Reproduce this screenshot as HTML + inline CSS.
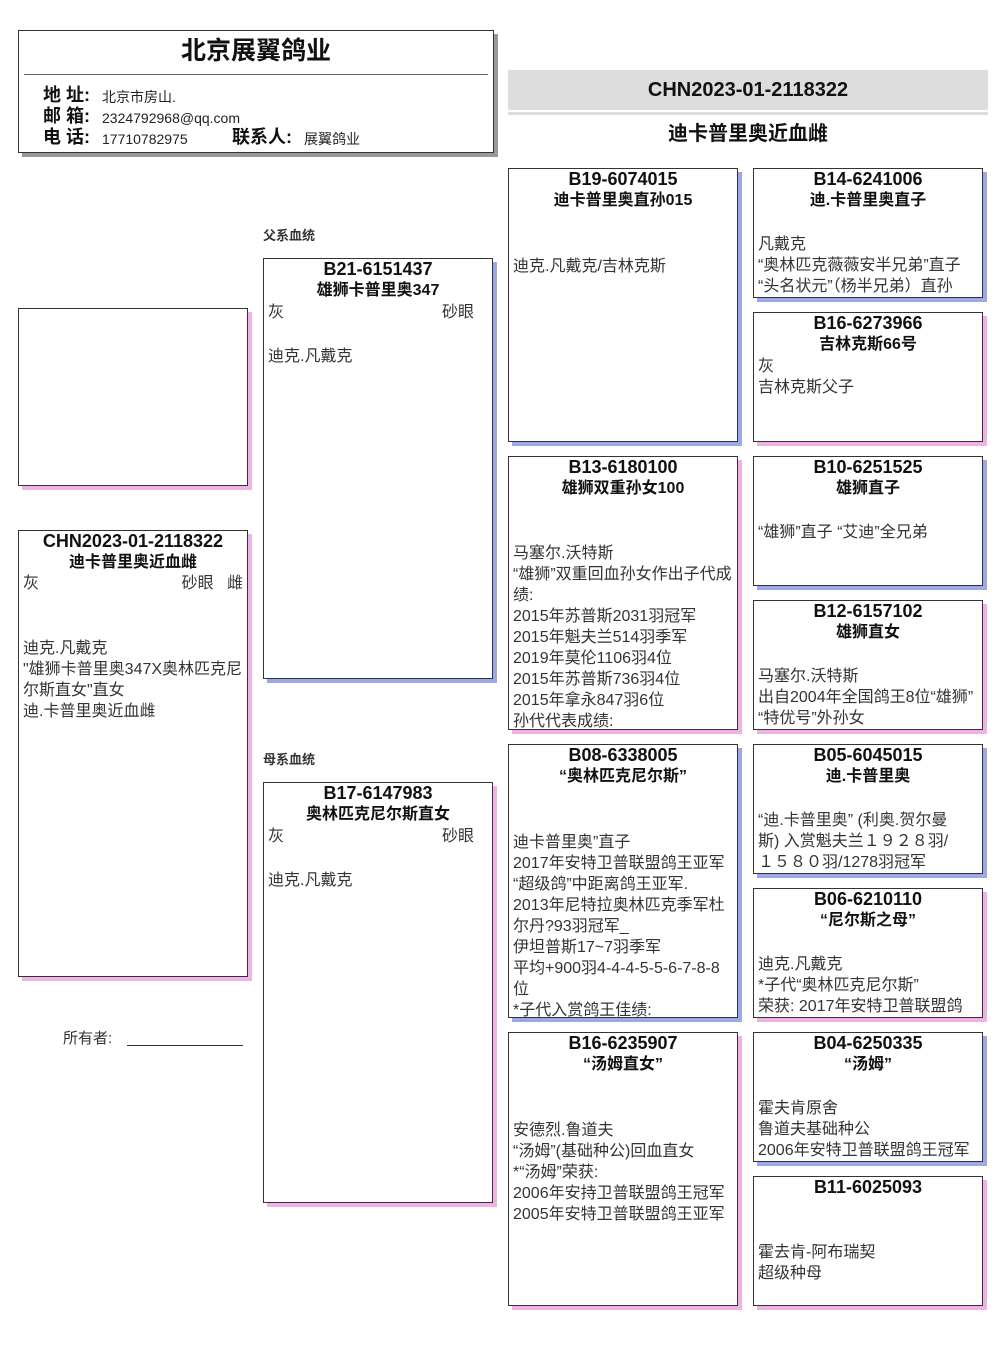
<!DOCTYPE html>
<html><head><meta charset="utf-8"><style>
*{margin:0;padding:0;box-sizing:border-box}
body{width:1006px;height:1366px;background:#fff;position:relative;overflow:hidden;font-family:"Liberation Sans","Noto Sans CJK SC",sans-serif;color:#222}
.b{position:absolute;border:1px solid #333;background:#fff;overflow:hidden}
.m{box-shadow:4px 4px 0 #9aa8e8}
.f{box-shadow:4px 4px 0 #f0b2e6}
.t{position:absolute;left:0;right:0;text-align:center;font-weight:bold;font-size:16px;line-height:21px;color:#111;white-space:nowrap}
.t1{top:0;font-size:18px}.t2{top:21px}
.bd{position:absolute;left:4px;right:0;font-size:16px;line-height:21px;color:#333;white-space:nowrap}
.r{position:absolute;right:4px;font-size:16px;line-height:21px;color:#333}
.lab{position:absolute;font-size:13px;color:#333;font-weight:bold}
</style></head><body>

<div class="b" style="left:18px;top:30px;width:476px;height:123px;box-shadow:4px 4px 0 #999">
  <div style="position:absolute;left:0;right:0;top:5px;text-align:center;font-weight:bold;font-size:25px;line-height:30px;color:#111">北京展翼鸽业</div>
  <div style="position:absolute;left:5px;right:5px;top:43px;border-top:1px solid #666"></div>
  <div style="position:absolute;left:24px;top:54px;font-size:18px;font-weight:bold;line-height:21px;color:#111">地 址:<br>邮 箱:<br>电 话:</div>
  <div style="position:absolute;left:83px;top:56px;font-size:14px;line-height:21px;color:#222">北京市房山.<br>2324792968@qq.com<br>17710782975</div>
  <div style="position:absolute;left:213px;top:96px;font-size:18px;font-weight:bold;line-height:21px;color:#111">联系人:</div>
  <div style="position:absolute;left:285px;top:98px;font-size:14px;line-height:21px">展翼鸽业</div>
</div>

<div style="position:absolute;left:508px;top:70px;width:480px;height:40px;background:#ddd;text-align:center;font-weight:bold;font-size:20px;line-height:40px;color:#111">CHN2023-01-2118322</div>
<div style="position:absolute;left:508px;top:112px;width:480px;height:3px;background:#ddd"></div>
<div style="position:absolute;left:508px;top:121px;width:480px;text-align:center;font-weight:bold;font-size:20px;line-height:26px;color:#111">迪卡普里奥近血雌</div>

<div class="b f" style="left:18px;top:308px;width:230px;height:178px"></div>

<div class="b f" style="left:18px;top:530px;width:230px;height:447px">
  <div class="t t1">CHN2023-01-2118322</div><div class="t t2">迪卡普里奥近血雌</div>
  <div class="bd" style="top:42px">灰</div><div class="r" style="top:42px">砂眼&nbsp;&nbsp;&nbsp;雌</div>
  <div class="bd" style="top:107px">迪克.凡戴克<br>"雄狮卡普里奥347X奥林匹克尼<br>尔斯直女"直女<br>迪.卡普里奥近血雌</div>
</div>

<div style="position:absolute;left:63px;top:1028px;font-size:15px;line-height:21px;color:#333">所有者:</div>
<div style="position:absolute;left:127px;top:1045px;width:116px;border-top:1px solid #333"></div>

<div class="lab" style="left:263px;top:225px">父系血统</div>
<div class="lab" style="left:263px;top:749px">母系血统</div>

<div class="b m" style="left:263px;top:258px;width:230px;height:421px">
  <div class="t t1">B21-6151437</div><div class="t t2">雄狮卡普里奥347</div>
  <div class="bd" style="top:43px">灰</div><div class="r" style="top:43px;right:18px">砂眼</div>
  <div class="bd" style="top:87px">迪克.凡戴克</div>
</div>
<div class="b f" style="left:263px;top:782px;width:230px;height:421px">
  <div class="t t1">B17-6147983</div><div class="t t2">奥林匹克尼尔斯直女</div>
  <div class="bd" style="top:43px">灰</div><div class="r" style="top:43px;right:18px">砂眼</div>
  <div class="bd" style="top:87px">迪克.凡戴克</div>
</div>

<div class="b m" style="left:508px;top:168px;width:230px;height:274px">
  <div class="t t1">B19-6074015</div><div class="t t2">迪卡普里奥直孙015</div>
  <div class="bd" style="top:87px">迪克.凡戴克/吉林克斯</div>
</div>
<div class="b f" style="left:508px;top:456px;width:230px;height:274px">
  <div class="t t1">B13-6180100</div><div class="t t2">雄狮双重孙女100</div>
  <div class="bd" style="top:86px">马塞尔.沃特斯<br>“雄狮”双重回血孙女作出子代成<br>绩:<br>2015年苏普斯2031羽冠军<br>2015年魁夫兰514羽季军<br>2019年莫伦1106羽4位<br>2015年苏普斯736羽4位<br>2015年拿永847羽6位<br>孙代代表成绩:</div>
</div>
<div class="b m" style="left:508px;top:744px;width:230px;height:274px">
  <div class="t t1">B08-6338005</div><div class="t t2">“奥林匹克尼尔斯”</div>
  <div class="bd" style="top:87px">迪卡普里奥”直子<br>2017年安特卫普联盟鸽王亚军<br>“超级鸽”中距离鸽王亚军.<br>2013年尼特拉奥林匹克季军杜<br>尔丹?93羽冠军_<br>伊坦普斯17~7羽季军<br>平均+900羽4-4-4-5-5-6-7-8-8<br>位<br>*子代入赏鸽王佳绩:</div>
</div>
<div class="b f" style="left:508px;top:1032px;width:230px;height:274px">
  <div class="t t1">B16-6235907</div><div class="t t2">“汤姆直女”</div>
  <div class="bd" style="top:87px">安德烈.鲁道夫<br>“汤姆”(基础种公)回血直女<br>*“汤姆”荣获:<br>2006年安持卫普联盟鸽王冠军<br>2005年安特卫普联盟鸽王亚军</div>
</div>

<div class="b m" style="left:753px;top:168px;width:230px;height:130px">
  <div class="t t1">B14-6241006</div><div class="t t2">迪.卡普里奥直子</div>
  <div class="bd" style="top:65px">凡戴克<br>“奥林匹克薇薇安半兄弟”直子<br>“头名状元”（杨半兄弟）直孙</div>
</div>
<div class="b f" style="left:753px;top:312px;width:230px;height:130px">
  <div class="t t1">B16-6273966</div><div class="t t2">吉林克斯66号</div>
  <div class="bd" style="top:43px">灰<br>吉林克斯父子</div>
</div>
<div class="b m" style="left:753px;top:456px;width:230px;height:130px">
  <div class="t t1">B10-6251525</div><div class="t t2">雄狮直子</div>
  <div class="bd" style="top:65px">“雄狮”直子 “艾迪”全兄弟</div>
</div>
<div class="b f" style="left:753px;top:600px;width:230px;height:130px">
  <div class="t t1">B12-6157102</div><div class="t t2">雄狮直女</div>
  <div class="bd" style="top:65px">马塞尔.沃特斯<br>出自2004年全国鸽王8位“雄狮”<br>“特优号”外孙女</div>
</div>
<div class="b m" style="left:753px;top:744px;width:230px;height:130px">
  <div class="t t1">B05-6045015</div><div class="t t2">迪.卡普里奥</div>
  <div class="bd" style="top:65px">“迪.卡普里奥” (利奥.贺尔曼<br>斯) 入赏魁夫兰１９２８羽/<br>１５８０羽/1278羽冠军</div>
</div>
<div class="b f" style="left:753px;top:888px;width:230px;height:130px">
  <div class="t t1">B06-6210110</div><div class="t t2">“尼尔斯之母”</div>
  <div class="bd" style="top:65px">迪克.凡戴克<br>*子代“奥林匹克尼尔斯”<br>荣获: 2017年安特卫普联盟鸽</div>
</div>
<div class="b m" style="left:753px;top:1032px;width:230px;height:130px">
  <div class="t t1">B04-6250335</div><div class="t t2">“汤姆”</div>
  <div class="bd" style="top:65px">霍夫肯原舍<br>鲁道夫基础种公<br>2006年安特卫普联盟鸽王冠军</div>
</div>
<div class="b f" style="left:753px;top:1176px;width:230px;height:130px">
  <div class="t t1">B11-6025093</div>
  <div class="bd" style="top:65px">霍去肯-阿布瑞契<br>超级种母</div>
</div>

</body></html>
